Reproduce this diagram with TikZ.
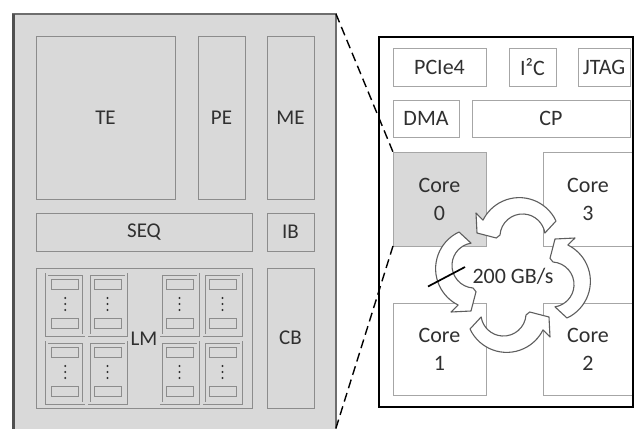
\documentclass[tikz,border=0pt]{standalone}
\usepackage{fontspec}
\setmainfont{Carlito}
\usetikzlibrary{calc}

\definecolor{chipfill}{HTML}{D9D9D9}
\definecolor{edgegray}{HTML}{8C8C8C}
\definecolor{lightedge}{HTML}{A6A6A6}
\definecolor{inkgray}{HTML}{303030}
\definecolor{outline}{HTML}{6E6E6E}
\definecolor{darkside}{HTML}{505050}
\definecolor{arrowedge}{HTML}{5E5E5E}

% rectangular block given by its corners: [style]{name}{x1}{y1}{x2}{y2}{text}
\newcommand\blk[7][]{%
  \pgfmathsetmacro\blkw{#5-#3}\pgfmathsetmacro\blkh{#6-#4}%
  \node[#1, minimum width=\blkw, minimum height=\blkh, anchor=north west] (#2) at (#3,#4) {#7};}

% one local-memory bank: outer frame, two slots and a vertical ellipsis
\newcommand\bank[3]{%
  \node[bankbox, anchor=north west] (#1) at (#2,#3) {};
  \node[slot] (#1t) at ($(#1.north)+(0,10.3)$) {};
  \node[slot] (#1b) at ($(#1.south)+(0,-11.5)$) {};
  \foreach \d in {24,30,36} \fill[inkgray] ($(#1.north)+(0,\d)$) circle (1.1pt);}

% curved block arrow of the ring; drawn for the east side and rotated by #1
\newcommand\ringarrow[1]{%
  \begin{scope}[rotate=#1]
  \draw[ringarr] (54,43) arc[start angle=-65, end angle=63.7, radius=40.5pt]
    -- (62,-37) -- (42,-36) -- (37,-16.7) -- (40,-13)
    arc[start angle=86, end angle=-81, radius=22.6pt] -- cycle;
  \end{scope}}

\tikzset{
  x=1pt, y=-1pt,
  every node/.style={inner sep=0pt, outer sep=0pt, text=inkgray},
  chipbox/.style={draw=outline, line width=2pt, fill=chipfill},
  unit/.style={draw=edgegray, line width=1pt, fill=chipfill,
    font=\fontsize{21}{26}\selectfont},
  bankbox/.style={draw=edgegray, line width=0.7pt, double=chipfill,
    double distance=1.6pt, minimum width=37, minimum height=61},
  slot/.style={draw=edgegray, line width=0.9pt, fill=chipfill,
    minimum width=27, minimum height=10},
  diebox/.style={fill=white},
  dieedge/.style={draw=black, line width=2.8pt},
  part/.style={draw=lightedge, line width=1pt, fill=white,
    font=\fontsize{22}{28}\selectfont, align=center},
  hotpart/.style={part, fill=chipfill},
  ringarr/.style={draw=arrowedge, line width=1.1pt, fill=white, line join=round},
  zoomline/.style={draw=black, line width=1.4pt, dash pattern=on 9pt off 5pt},
}

\begin{document}
\begin{tikzpicture}
\useasboundingbox (0,0) rectangle (636,428);
\clip (0,0) rectangle (636,428);

% ---- enlarged core (left) ----
\blk[chipbox]{chip}{13}{14}{336}{450}{}
\draw[darkside, line width=3pt] (chip.north west) -- (chip.south west);
\blk[unit]{te}{36}{37}{175}{199}{TE}
\blk[unit]{pe}{198}{37}{245}{199}{PE}
\blk[unit]{me}{267}{37}{314}{199}{ME}
\blk[unit]{seq}{36}{213}{252}{251}{SEQ}
\blk[unit]{ib}{267}{213}{314}{251}{IB}
\blk[unit]{lm}{36}{268}{252}{408}{}
\blk[unit]{cb}{267}{268}{314}{408}{CB}

\bank{bA}{46.7}{274}
\bank{bB}{89}{274}
\bank{bC}{161}{274}
\bank{bD}{204}{274}
\bank{bE}{46.7}{342}
\bank{bF}{89}{342}
\bank{bG}{161}{342}
\bank{bH}{204}{342}
\node[font=\fontsize{21}{26}\selectfont] (lmlabel) at (144,339) {LM};

% ---- die (right) ----
\blk[diebox]{die}{379}{37}{633}{407}{}
\blk[part]{pcie}{393}{49}{486}{86}{PCIe4}
\blk[part]{itwoc}{509}{49}{556}{86}{I²C}
\blk[part]{jtag}{578}{49}{630}{86}{JTAG}
\blk[part]{dma}{393}{100}{459}{137}{DMA}
\blk[part]{cp}{472}{100}{630}{137}{CP}
\blk[hotpart]{core0}{393}{152}{486}{246}{Core\\0}
\blk[part]{core3}{543}{152}{633}{246}{Core\\3}
\blk[part]{core1}{393}{303}{486}{395}{Core\\1}
\blk[part]{core2}{543}{303}{633}{395}{Core\\2}
\draw[dieedge] (die.north west) rectangle (die.south east);

% ---- ring interconnect: four counter-clockwise block arrows ----
\coordinate (ring) at (513,275);
\begin{scope}[shift={(ring)}]
  \ringarrow{0}
  \ringarrow{90}
  \ringarrow{180}
  \ringarrow{270}
\end{scope}
\node[font=\fontsize{22}{28}\selectfont] (bw) at (513,276) {200 GB/s};
\coordinate (slashA) at (428,286.5);
\coordinate (slashB) at (465,267);
\draw[line width=1.7pt] (slashA) -- (slashB);

% ---- zoom guide lines ----
\coordinate (chipfoot) at (336,428);
\draw[zoomline] (chip.north east) -- (core0.north west);
\draw[zoomline] (core0.south west) -- (chipfoot);
\end{tikzpicture}
\end{document}
